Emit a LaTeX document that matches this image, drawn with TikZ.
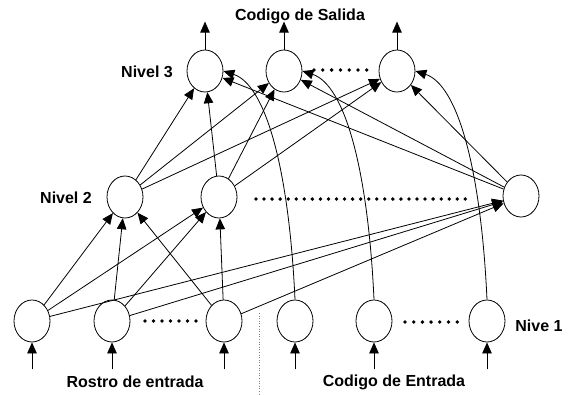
\documentclass[tikz,border=0pt]{standalone}
\usepackage{fontspec}
\setmainfont{Liberation Sans}
\usetikzlibrary{arrows.meta,shapes.geometric}
\begin{document}
\begin{tikzpicture}[x=1pt,y=-1pt,
  neuron/.style={draw,ellipse,minimum width=36pt,minimum height=42pt,inner sep=0pt,line width=0.8pt},
  lbl/.style={font=\fontsize{16}{18}\selectfont\bfseries,inner sep=0pt},
  conn/.style={line width=0.8pt,-{Triangle[length=11pt,width=9.5pt]}},
  bigdot/.style={fill,circle,minimum size=3.8pt,inner sep=0pt}]
\useasboundingbox (0,0) rectangle (568,394);
% level 3
\node[neuron] (A3) at (205,71) {};
\node[neuron] (B3) at (284,71) {};
\node[neuron] (C3) at (397,71) {};
% level 2
\node[neuron] (A2) at (125,197) {};
\node[neuron] (B2) at (219,197) {};
\node[neuron] (C2) at (521,196) {};
% level 1
\node[neuron] (La) at (32,321) {};
\node[neuron] (Lb) at (112,321) {};
\node[neuron] (Lc) at (224,321) {};
\node[neuron] (Ld) at (295,321) {};
\node[neuron] (Le) at (374,321) {};
\node[neuron] (Lf) at (487,321) {};
% labels
\node[lbl] (tsal) at (300,16) {Codigo de Salida};
\node[lbl] (tn3) at (147,72) {Nivel 3};
\node[lbl] (tn2) at (66,198) {Nivel 2};
\node[lbl] (tn1) at (539,326) {Nive 1};
\node[lbl] (trostro) at (135,382) {Rostro de entrada};
\node[lbl] (tcod) at (394,382) {Codigo de Entrada};
% output arrows
\foreach \n in {A3,B3,C3} {
  \coordinate (o\n) at ([yshift=28pt]\n.north);
  \draw[conn] (\n.north) -- (o\n);
}
% input arrows
\foreach \n in {La,Lb,Lc,Ld,Le,Lf} {
  \coordinate (i\n) at ([yshift=-27pt]\n.south);
  \draw[conn] (i\n) -- (\n.south);
}
% level 1 -> level 2
\foreach \s in {La,Lb,Lc} {
  \foreach \t in {A2,B2,C2} {
    \draw[conn] (\s) -- (\t);
  }
}
% level 2 -> level 3
\foreach \s in {A2,B2,C2} {
  \foreach \t in {A3,B3,C3} {
    \draw[conn] (\s) -- (\t);
  }
}
% curved connections
\draw[conn] (Ld.north) .. controls (289,170) and (266,85) .. (A3.east);
\draw[conn] (Le.north) .. controls (368,170) and (345,85) .. (B3.east);
\draw[conn] (Lf.north) .. controls (481,170) and (458,85) .. (C3.east);
% dots
\foreach \i in {0,...,6} {
  \node[bigdot] (d3\i) at (314+8.8*\i,70) {};
  \node[bigdot] (d1a\i) at (145+8.5*\i,321) {};
  \node[bigdot] (d1b\i) at (405+8.7*\i,322) {};
}
\foreach \i in {0,...,26} {
  \node[bigdot] (d2\i) at (256+8.05*\i,199) {};
}
% separator
\coordinate (sepT) at (259,313);
\coordinate (sepB) at (259,394);
\draw[dotted,line width=0.6pt,gray] (sepT) -- (sepB);
\end{tikzpicture}
\end{document}
